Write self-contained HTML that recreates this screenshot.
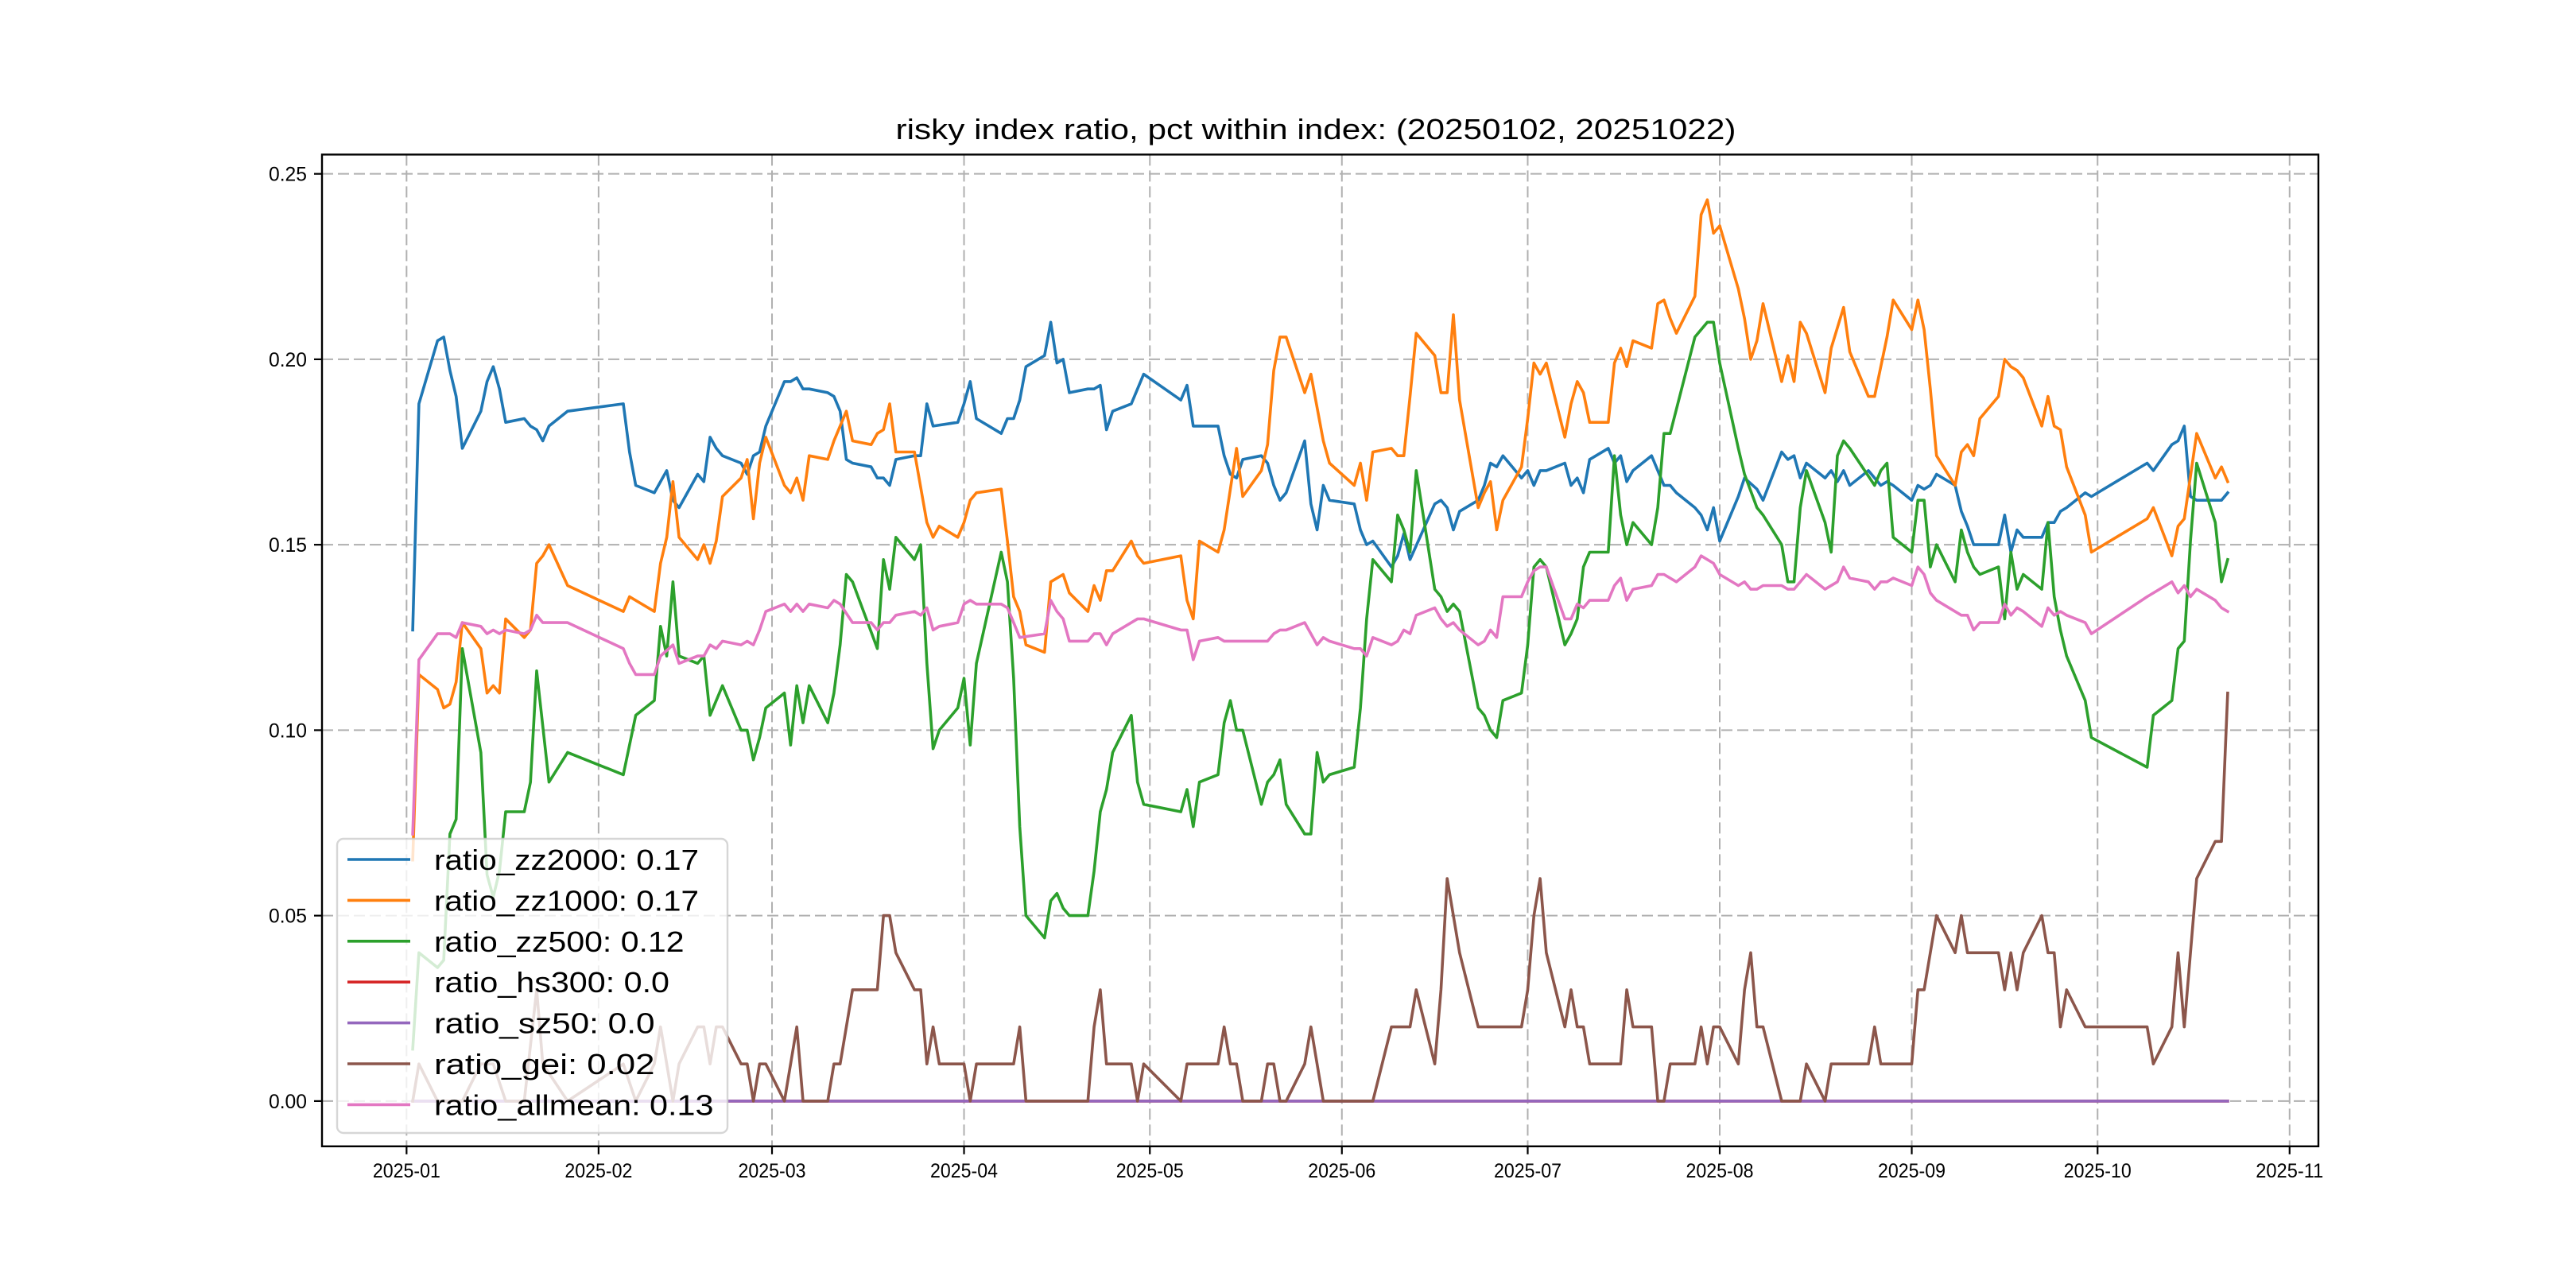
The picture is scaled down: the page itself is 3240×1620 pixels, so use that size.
<!DOCTYPE html>
<html><head><meta charset="utf-8"><style>html,body{margin:0;padding:0;background:#fff}svg{display:block}</style></head>
<body>
<svg id="chart" xmlns="http://www.w3.org/2000/svg" width="3240" height="1620" viewBox="0 0 3240 1620">
<rect x="0" y="0" width="3240" height="1620" fill="#fff"/>
<text x="1655" y="175" text-anchor="middle" font-family="'Liberation Sans', sans-serif" font-size="36" textLength="1057" lengthAdjust="spacingAndGlyphs">risky index ratio, pct within index: (20250102, 20251022)</text>
<g id="grid"></g>
<g id="series"></g>
<g id="axes"></g>
<g id="legend"></g>
</svg>
<script>
const xTickLabels = ["2025-01","2025-02","2025-03","2025-04","2025-05","2025-06","2025-07","2025-08","2025-09","2025-10","2025-11"];
const xTickDays = [0,31,59,90,120,151,181,212,243,273,304];
const yTickValues = [0,0.05,0.10,0.15,0.20,0.25];
const yTickLabels = ["0.00","0.05","0.10","0.15","0.20","0.25"];

const zz2000Days = [1,2,5,6,7,8,9,12,13,14,15,16,19,20,21,22,23,26,35,36,37,40,41,42,43,44,47,48,49,50,51,54,55,56,57,58,61,62,63,64,65,68,69,70,71,72,75,76,77,78,79,82,83,84,85,89,90,91,92,96,97,98,99,100,103,104,105,106,107,110,111,112,113,114,117,119,125,126,127,131,132,133,134,135,138,139,140,141,142,145,146,147,148,149,153,154,155,156,159,160,161,162,166,167,168,169,170,173,174,175,176,177,180,181,182,183,184,187,188,189,190,191,194,195,196,197,198,201,203,204,205,208,209,210,211,212,215,216,218,219,222,223,224,225,226,229,230,231,232,233,236,237,238,239,240,243,244,245,246,247,250,251,252,253,257,258,259,260,261,264,265,266,267,268,271,272,281,282,285,286,287,288,289,293,294];
const zz2000Values = [.127,.188,.205,.206,.197,.190,.176,.186,.194,.198,.192,.183,.184,.182,.181,.178,.182,.186,.188,.175,.166,.164,.167,.170,.162,.160,.169,.167,.179,.176,.174,.172,.169,.174,.175,.182,.194,.194,.195,.192,.192,.191,.190,.186,.173,.172,.171,.168,.168,.166,.173,.174,.174,.188,.182,.183,.188,.194,.184,.180,.184,.184,.189,.198,.201,.210,.199,.200,.191,.192,.192,.193,.181,.186,.188,.196,.189,.193,.182,.182,.174,.169,.168,.173,.174,.172,.166,.162,.164,.178,.161,.154,.166,.162,.161,.154,.150,.151,.144,.147,.153,.146,.161,.162,.160,.154,.159,.162,.166,.172,.171,.174,.168,.170,.166,.170,.170,.172,.166,.168,.164,.173,.176,.172,.174,.167,.170,.174,.166,.166,.164,.160,.158,.154,.160,.151,.163,.168,.165,.162,.175,.173,.174,.168,.172,.168,.170,.167,.170,.166,.170,.168,.166,.167,.166,.162,.166,.165,.166,.169,.166,.159,.155,.150,.150,.158,.148,.154,.152,.152,.156,.156,.159,.160,.164,.163,.172,.170,.177,.178,.182,.163,.162,.162,.164];

const zz1000Days = [1,2,5,6,7,8,9,12,13,14,15,16,19,20,21,22,23,26,35,36,40,41,42,43,44,47,48,49,50,51,54,55,56,57,58,61,62,63,64,65,68,69,71,72,75,76,77,78,79,82,84,85,86,89,90,91,92,96,97,98,99,100,103,104,106,107,110,111,112,113,114,117,118,119,125,126,127,128,131,132,134,135,138,139,140,141,142,145,146,148,149,153,154,155,156,159,160,161,162,163,166,167,168,169,170,173,174,175,176,177,180,181,182,183,184,187,188,189,190,191,194,195,196,197,198,201,202,203,204,205,208,209,210,211,212,215,216,217,218,219,222,223,224,225,226,229,230,232,233,236,237,239,240,243,244,245,246,247,250,251,252,253,254,257,258,259,260,261,264,265,266,267,268,271,272,281,282,285,286,287,289,292,293,294];
const zz1000Values = [.065,.115,.111,.106,.107,.113,.129,.122,.110,.112,.110,.130,.125,.127,.145,.147,.150,.139,.132,.136,.132,.145,.152,.167,.152,.146,.150,.145,.151,.163,.168,.173,.157,.172,.179,.166,.164,.168,.162,.174,.173,.178,.186,.178,.177,.180,.181,.188,.175,.175,.156,.152,.155,.152,.156,.162,.164,.165,.151,.136,.132,.123,.121,.140,.142,.137,.132,.139,.135,.143,.143,.151,.147,.145,.147,.135,.130,.151,.148,.154,.176,.163,.170,.177,.197,.206,.206,.191,.196,.178,.172,.166,.172,.162,.175,.176,.174,.174,.190,.207,.201,.191,.191,.212,.189,.160,.164,.167,.154,.162,.171,.184,.199,.196,.199,.179,.188,.194,.191,.183,.183,.199,.203,.198,.205,.203,.215,.216,.211,.207,.217,.239,.243,.234,.236,.219,.211,.200,.205,.215,.194,.201,.194,.210,.207,.191,.203,.214,.202,.190,.190,.206,.216,.208,.216,.208,.192,.174,.166,.175,.177,.174,.184,.190,.200,.198,.197,.195,.182,.190,.182,.181,.171,.158,.148,.157,.160,.147,.155,.157,.180,.168,.171,.167];

const zz500Days = [1,2,5,6,7,8,9,12,13,14,15,16,19,20,21,23,26,35,37,40,41,42,43,44,47,48,49,51,54,55,56,57,58,61,62,63,64,65,68,69,70,71,72,76,77,78,79,82,83,84,85,86,89,90,91,92,96,97,98,99,100,103,104,105,106,107,110,111,112,113,114,117,118,119,125,126,127,128,131,132,133,134,135,138,139,140,141,142,145,146,147,148,149,153,154,155,156,159,160,161,162,163,166,167,168,169,170,173,174,175,176,177,180,181,182,183,184,187,188,189,190,191,194,195,196,197,198,201,202,203,204,208,210,211,212,215,216,218,219,222,223,224,225,226,229,230,231,232,233,237,238,239,240,243,244,245,246,247,250,251,252,253,254,257,258,259,260,261,264,265,266,267,268,271,272,281,282,285,286,287,288,289,292,293,294];
const zz500Values = [.014,.040,.036,.038,.072,.076,.122,.094,.061,.055,.062,.078,.078,.086,.116,.086,.094,.088,.104,.108,.128,.120,.140,.120,.118,.120,.104,.112,.100,.100,.092,.098,.106,.110,.096,.112,.102,.112,.102,.110,.123,.142,.140,.122,.146,.138,.152,.146,.150,.118,.095,.100,.106,.114,.096,.118,.148,.140,.114,.074,.050,.044,.054,.056,.052,.050,.050,.062,.078,.084,.094,.104,.086,.080,.078,.084,.074,.086,.088,.102,.108,.100,.100,.080,.086,.088,.092,.080,.072,.072,.094,.086,.088,.090,.106,.130,.146,.140,.158,.154,.148,.170,.138,.136,.132,.134,.132,.106,.104,.100,.098,.108,.110,.123,.144,.146,.144,.123,.126,.130,.144,.148,.148,.174,.158,.150,.156,.150,.160,.180,.180,.206,.210,.210,.199,.176,.169,.160,.158,.150,.140,.140,.160,.170,.156,.148,.174,.178,.176,.166,.170,.172,.152,.148,.162,.162,.144,.150,.140,.154,.148,.144,.142,.144,.130,.148,.138,.142,.138,.156,.136,.127,.120,.108,.098,.090,.104,.108,.122,.124,.151,.172,.156,.140,.146];

const hs300Days = [1,294];
const hs300Values = [0,0];
const sz50Days = [1,294];
const sz50Values = [0,0];

const geiDays = [1,2,5,9,12,14,16,19,21,22,26,35,37,40,41,43,44,47,48,49,50,51,54,55,56,57,58,61,63,64,68,69,70,72,76,77,78,79,82,83,84,85,86,90,91,92,98,99,100,110,111,112,113,117,118,119,125,126,131,132,133,134,135,138,139,140,141,142,145,146,148,156,159,162,163,166,167,168,170,173,180,181,182,183,184,187,188,189,190,191,196,197,198,201,202,203,204,208,209,210,211,212,215,216,217,218,219,222,225,226,229,230,236,237,238,243,244,245,247,250,251,252,257,258,259,260,261,264,265,266,267,268,271,281,282,285,286,287,289,292,293,294];
const geiValues = [0,.01,0,0,.01,.01,0,0,.03,.01,0,.01,0,.01,.02,0,.01,.02,.02,.01,.02,.02,.01,.01,0,.01,.01,0,.02,0,0,.01,.01,.03,.03,.05,.05,.04,.03,.03,.01,.02,.01,.01,0,.01,.01,.02,0,0,.02,.03,.01,.01,0,.01,0,.01,.01,.02,.01,.01,0,0,.01,.01,0,0,.01,.02,0,0,.02,.02,.03,.01,.03,.06,.04,.02,.02,.03,.05,.06,.04,.02,.03,.02,.02,.01,.01,.03,.02,.02,0,0,.01,.01,.02,.01,.02,.02,.01,.03,.04,.02,.02,0,0,.01,0,.01,.01,.02,.01,.01,.03,.03,.05,.04,.05,.04,.04,.03,.04,.03,.04,.05,.04,.04,.02,.03,.02,.02,.01,.02,.04,.02,.06,.07,.07,.11];

const allmeanDays = [1,2,5,7,8,9,12,13,14,15,16,19,20,21,22,26,35,36,37,40,41,43,44,47,48,49,50,51,54,55,56,57,58,61,62,63,64,65,68,69,70,72,75,76,77,78,79,82,83,84,85,86,89,90,91,92,96,97,98,99,103,104,105,106,107,110,111,112,113,114,118,119,125,126,127,128,131,132,139,140,141,142,145,146,147,148,149,153,154,155,156,159,160,161,162,163,166,167,168,169,170,173,174,175,176,177,180,181,182,183,184,187,188,189,190,191,194,195,196,197,198,201,202,203,205,208,209,211,212,215,216,217,218,219,222,223,224,226,229,231,232,233,236,237,238,239,240,243,244,245,246,247,251,252,253,254,257,258,259,260,261,264,265,266,267,268,271,272,281,285,286,287,288,289,292,293,294];
const allmeanValues = [.072,.119,.126,.126,.125,.129,.128,.126,.127,.126,.127,.126,.127,.131,.129,.129,.122,.118,.115,.115,.120,.123,.118,.120,.120,.123,.122,.124,.123,.124,.123,.127,.132,.134,.132,.134,.132,.134,.133,.135,.134,.129,.129,.127,.129,.129,.131,.132,.131,.133,.127,.128,.129,.134,.135,.134,.134,.133,.129,.125,.126,.135,.132,.130,.124,.124,.126,.126,.123,.126,.130,.130,.127,.127,.119,.124,.125,.124,.124,.126,.127,.127,.129,.126,.123,.125,.124,.122,.122,.120,.125,.123,.124,.127,.126,.131,.133,.130,.128,.129,.127,.123,.124,.127,.125,.136,.136,.140,.143,.144,.144,.130,.130,.134,.133,.135,.135,.139,.141,.135,.138,.139,.142,.142,.140,.144,.147,.145,.142,.139,.140,.138,.138,.139,.139,.138,.138,.142,.138,.140,.144,.141,.140,.138,.140,.140,.141,.139,.144,.142,.137,.135,.131,.131,.127,.129,.129,.134,.131,.133,.132,.128,.133,.131,.132,.131,.129,.126,.136,.140,.137,.139,.136,.138,.135,.133,.132];

const seriesNames = ["ratio_zz2000","ratio_zz1000","ratio_zz500","ratio_hs300","ratio_sz50","ratio_gei","ratio_allmean"];
const legendValues = ["0.17","0.17","0.12","0.0","0.0","0.02","0.13"];

const NS = "http://www.w3.org/2000/svg";
const AX = {l:405, r:2916, t:194.4, b:1441.8};
const XMIN = -13.65, XMAX = 308.65, YMIN = -0.0122, YMAX = 0.2552;
function xScale(d){ return AX.l + (d - XMIN) / (XMAX - XMIN) * (AX.r - AX.l); }
function yScale(v){ return AX.b - (v - YMIN) / (YMAX - YMIN) * (AX.b - AX.t); }
function mk(tag, attrs, parent){ const e = document.createElementNS(NS, tag); for (const k in attrs) e.setAttribute(k, attrs[k]); parent.appendChild(e); return e; }

const grid = document.getElementById('grid');
const axes = document.getElementById('axes');
const series = document.getElementById('series');
const legend = document.getElementById('legend');
const FONT = "'Liberation Sans', sans-serif";

xTickDays.forEach((d, i) => {
  const x = xScale(d);
  const g = mk('line', {x1:x, x2:x, y1:AX.t, y2:AX.b, stroke:'#b0b0b0', 'stroke-width':2, 'stroke-dasharray':'14,6'}, grid);
  
  
  const t = mk('line', {x1:x, x2:x, y1:AX.b, y2:AX.b+10, stroke:'#000', 'stroke-width':2.2}, axes);
  
  
  const lbl = mk('text', {x:x, y:1481, 'text-anchor':'middle', 'font-family':FONT, 'font-size':25, textLength:85, lengthAdjust:'spacingAndGlyphs'}, axes);
  lbl.textContent = xTickLabels[i];
  
  
});
yTickValues.forEach((v, i) => {
  const y = yScale(v);
  const g = mk('line', {x1:AX.l, x2:AX.r, y1:y, y2:y, stroke:'#b0b0b0', 'stroke-width':2, 'stroke-dasharray':'14,6'}, grid);
  
  
  const t = mk('line', {x1:AX.l-10, x2:AX.l, y1:y, y2:y, stroke:'#000', 'stroke-width':2.2}, axes);
  
  
  const lbl = mk('text', {x:386, y:y+9, 'text-anchor':'end', 'font-family':FONT, 'font-size':25, textLength:48, lengthAdjust:'spacingAndGlyphs'}, axes);
  lbl.textContent = yTickLabels[i];
  
  
});
const frame = mk('rect', {x:AX.l, y:AX.t, width:AX.r-AX.l, height:AX.b-AX.t, fill:'none', stroke:'#000', 'stroke-width':2.4}, axes);



const allDays = [zz2000Days, zz1000Days, zz500Days, hs300Days, sz50Days, geiDays, allmeanDays];
const allVals = [zz2000Values, zz1000Values, zz500Values, hs300Values, sz50Values, geiValues, allmeanValues];
const colors = ['#1f77b4','#ff7f0e','#2ca02c','#d62728','#9467bd','#8c564b','#e377c2'];
const lineNames = ['line-zz2000','line-zz1000','line-zz500','line-hs300','line-sz50','line-gei','line-allmean'];
allDays.forEach((days, s) => {
  const vals = allVals[s];
  const pts = days.map((d, i) => xScale(d).toFixed(1) + ',' + yScale(vals[i]).toFixed(1)).join(' ');
  const pl = mk('polyline', {points:pts, fill:'none', stroke:colors[s], 'stroke-width':3.6, 'stroke-linejoin':'round', 'stroke-linecap':'square'}, series);
  
  
});

const box = mk('rect', {x:424, y:1055, width:491, height:370, rx:8, fill:'#fff', 'fill-opacity':0.8, stroke:'#cccccc', 'stroke-opacity':0.8, 'stroke-width':2.4}, legend);


seriesNames.forEach((n, i) => {
  const y = 1081 + i * 51.4;
  const ln = mk('line', {x1:437, x2:516, y1:y, y2:y, stroke:colors[i], 'stroke-width':3.6}, legend);
  
  
  const label = n + ': ' + legendValues[i];
  const tx = mk('text', {x:546, y:y+13, 'font-family':FONT, 'font-size':36, textLength:(label.length*18.5).toFixed(1), lengthAdjust:'spacingAndGlyphs'}, legend);
  tx.textContent = label;
  
  
});
</script>
</body></html>
